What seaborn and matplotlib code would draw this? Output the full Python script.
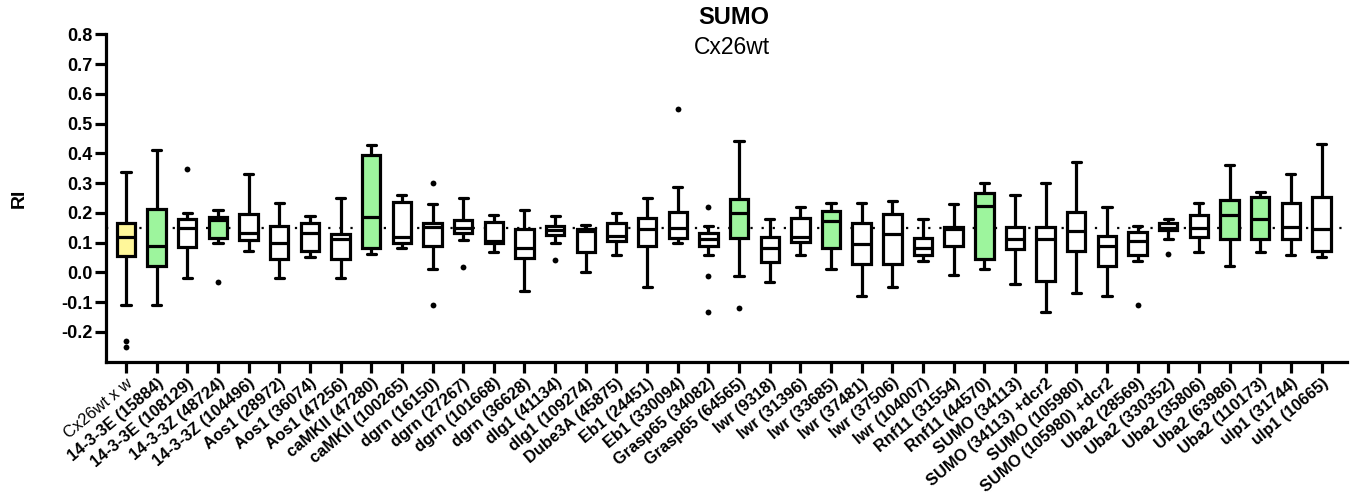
import matplotlib
matplotlib.use("Agg")
import matplotlib.pyplot as plt
import numpy as np
import pandas as pd
import seaborn as sns

# Genotypes along the x axis
groups = [
    "Cx26wt x w", "14-3-3E (15884)", "14-3-3E (108129)", "14-3-3Z (48724)",
    "14-3-3Z (104496)", "Aos1 (28972)", "Aos1 (36074)", "Aos1 (47256)",
    "caMKII (47280)", "caMKII (100265)", "dgrn (16150)", "dgrn (27267)",
    "dgrn (101668)", "dgrn (36628)", "dlg1 (41134)", "dlg1 (109274)",
    "Dube3A (45875)", "Eb1 (24451)", "Eb1 (330094)", "Grasp65 (34082)",
    "Grasp65 (64565)", "lwr (9318)", "lwr (31396)", "lwr (33685)",
    "lwr (37481)", "lwr (37506)", "lwr (104007)", "Rnf11 (31554)",
    "Rnf11 (44570)", "SUMO (34113)", "SUMO (34113) +dcr2", "SUMO (105980)",
    "SUMO (105980) +dcr2", "Uba2 (28569)", "Uba2 (330352)", "Uba2 (35806)",
    "Uba2 (63986)", "Uba2 (110173)", "ulp1 (31744)", "ulp1 (10665)",
]

# Box summary of RI per genotype
whisker_low = [-0.110, -0.110, -0.020, 0.097, 0.070, -0.020, 0.050, -0.020,
               0.060, 0.081, 0.010, 0.109, 0.069, -0.062, 0.100, 0.000,
               0.058, -0.048, 0.097, 0.058, -0.011, -0.031, 0.058, 0.010,
               -0.080, -0.048, 0.039, -0.009, 0.011, -0.040, -0.132, -0.071,
               -0.080, 0.039, 0.111, 0.069, 0.021, 0.069, 0.058, 0.050]
quartile_1 = [0.055, 0.022, 0.084, 0.117, 0.109, 0.045, 0.073, 0.045,
              0.081, 0.097, 0.088, 0.131, 0.097, 0.049, 0.125, 0.069,
              0.105, 0.090, 0.117, 0.090, 0.117, 0.036, 0.103, 0.081,
              0.027, 0.027, 0.058, 0.089, 0.045, 0.077, -0.028, 0.073,
              0.022, 0.058, 0.142, 0.118, 0.111, 0.112, 0.111, 0.073]
medians = [0.120, 0.090, 0.150, 0.176, 0.131, 0.100, 0.131, 0.112,
           0.185, 0.118, 0.153, 0.150, 0.105, 0.083, 0.142, 0.140,
           0.122, 0.145, 0.150, 0.111, 0.198, 0.081, 0.120, 0.173,
           0.094, 0.128, 0.081, 0.145, 0.224, 0.112, 0.112, 0.140,
           0.090, 0.105, 0.150, 0.148, 0.193, 0.179, 0.151, 0.146]
quartile_3 = [0.165, 0.213, 0.178, 0.187, 0.196, 0.156, 0.165, 0.128,
              0.394, 0.235, 0.167, 0.176, 0.168, 0.144, 0.156, 0.144,
              0.167, 0.184, 0.202, 0.133, 0.246, 0.120, 0.182, 0.206,
              0.167, 0.196, 0.117, 0.153, 0.266, 0.151, 0.153, 0.204,
              0.123, 0.134, 0.167, 0.193, 0.243, 0.254, 0.232, 0.252]
whisker_high = [0.338, 0.410, 0.198, 0.210, 0.330, 0.232, 0.189, 0.249,
                0.428, 0.260, 0.230, 0.250, 0.191, 0.209, 0.190, 0.159,
                0.200, 0.249, 0.288, 0.157, 0.440, 0.178, 0.218, 0.232,
                0.232, 0.240, 0.178, 0.230, 0.299, 0.260, 0.299, 0.370,
                0.218, 0.157, 0.178, 0.232, 0.359, 0.269, 0.330, 0.430]

# Points beyond the whiskers
outliers = [[-0.23, -0.25], [], [0.348], [-0.031], [], [], [], [],
            [], [], [0.300, -0.110], [0.019], [], [], [0.040], [],
            [], [], [0.548], [0.218, -0.011, -0.132], [-0.121], [], [], [],
            [], [], [], [], [], [], [], [],
            [], [-0.110], [0.060], [], [], [], [], []]

# 0 = control, 1 = hit, 2 = no effect
status = [0, 1, 2, 1, 2, 2, 2, 2,
          1, 2, 2, 2, 2, 2, 2, 2,
          2, 2, 2, 2, 1, 2, 2, 1,
          2, 2, 2, 2, 1, 2, 2, 2,
          2, 2, 2, 2, 1, 1, 2, 2]

reference_level = 0.148

status_colors = {0: "#FFF79A", 1: "#9DF59D", 2: "#FFFFFF"}

box_rows = []
for g, lo, a, m, b, hi in zip(groups, whisker_low, quartile_1, medians,
                              quartile_3, whisker_high):
    for v in (lo, a, m, b, hi):
        box_rows.append({"group": g, "RI": v})
box_df = pd.DataFrame(box_rows)

out_df = pd.DataFrame([{"group": g, "RI": v}
                       for g, pts in zip(groups, outliers) for v in pts])

palette = {g: status_colors[s] for g, s in zip(groups, status)}

sns.set_theme(style="ticks")
plt.rcParams["font.family"] = ["Liberation Sans", "DejaVu Sans"]
plt.rcParams["text.color"] = "black"
plt.rcParams["axes.labelcolor"] = "black"

fig = plt.figure(figsize=(13.51, 4.99), dpi=100)
ax = fig.add_axes([0.0785, 0.2754, 0.9185, 0.6559])

ax.axhline(reference_level, color="black", linestyle=(0, (1, 4)),
           linewidth=1.6, zorder=0)

sns.boxplot(data=box_df, x="group", y="RI", hue="group", order=groups,
            palette=palette, saturation=1, legend=False, whis=(0, 100),
            showfliers=False, width=0.6, linecolor="black", linewidth=2.3,
            ax=ax, boxprops={"zorder": 2})

sns.stripplot(data=out_df, x="group", y="RI", order=groups, jitter=False,
              color="black", size=4.2, ax=ax, zorder=5)

ax.set_xlim(-0.65, 39.83)
ax.set_ylim(-0.3, 0.8)
yticks = np.round(np.arange(-0.2, 0.81, 0.1), 1)
ax.set_yticks(yticks)
ax.set_yticklabels([f"{t:.1f}" for t in yticks],
                   fontsize=13, fontweight="bold")

ax.set_xticks(range(len(groups)))
ax.set_xticklabels(groups, rotation=40, ha="right", rotation_mode="anchor",
                   fontsize=11.8, fontweight="bold")
ax.get_xticklabels()[0].set_fontweight("normal")

ax.set_xlabel("")
ax.set_ylabel("RI", fontsize=14, fontweight="bold", labelpad=24)

for side in ("top", "right"):
    ax.spines[side].set_visible(False)
for side in ("left", "bottom"):
    ax.spines[side].set_linewidth(2.3)
    ax.spines[side].set_color("black")
ax.tick_params(axis="both", length=8, width=2.3, color="black",
               labelcolor="black")
ax.tick_params(axis="x", pad=2)
ax.tick_params(axis="y", pad=2)

fig.text(0.543, 0.965, "SUMO", ha="center", va="center",
         fontsize=17, fontweight="bold")
fig.text(0.542, 0.905, "Cx26wt", ha="center", va="center", fontsize=16.5)

fig.savefig("out.png", dpi=100)
